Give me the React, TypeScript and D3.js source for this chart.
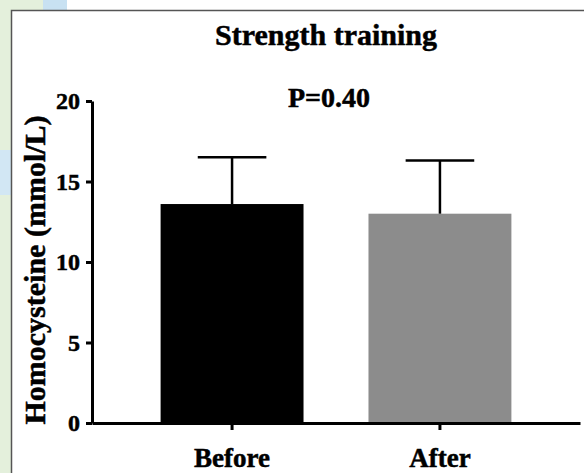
import React, { useEffect, useRef } from "react";
import * as d3 from "d3";

// data
const groups = ["Before", "After"];
const means = [13.6, 13.0];
const sds = [2.9, 3.3];
const barColors = ["#000000", "#8c8c8c"];
const yTicks = [0, 5, 10, 15, 20];
const title = "Strength training";
const pLabel = "P=0.40";
const yLabel = "Homocysteine (mmol/L)";

const W = 584;
const H = 473;
const FONT = "'Liberation Serif', 'Times New Roman', serif";

function App() {
  const ref = useRef<SVGSVGElement>(null);

  useEffect(() => {
    const svg = d3.select(ref.current);
    svg.selectAll("*").remove();

    // page background pieces outside the frame
    svg.append("rect").attr("x", 0).attr("y", 0).attr("width", W).attr("height", H).attr("fill", "#fff");
    svg.append("rect").attr("x", 0).attr("y", 0).attr("width", 11).attr("height", H).attr("fill", "#e4f0dc");
    svg.append("rect").attr("x", 0).attr("y", 0).attr("width", 66).attr("height", 10).attr("fill", "#e4f0dc");
    svg.append("rect").attr("x", 43).attr("y", 0).attr("width", 24).attr("height", 10).attr("fill", "#c8e1f2");
    svg.append("rect").attr("x", 0).attr("y", 150).attr("width", 11).attr("height", 45).attr("fill", "#d2e7f4");

    // frame
    svg.append("path")
      .attr("d", `M11.5,${H} V10.5 H${W}`)
      .attr("fill", "none")
      .attr("stroke", "#555")
      .attr("stroke-width", 1.5);

    const y = d3.scaleLinear().domain([0, 20]).range([423, 101]);
    const x = d3.scaleBand<string>()
      .domain(groups)
      .range([92, 580])
      .paddingInner(0.3125)
      .paddingOuter(0.33)
      .align(0.5);

    // bars
    svg.append("g").selectAll("rect")
      .data(groups)
      .join("rect")
      .attr("x", (d) => x(d)!)
      .attr("width", x.bandwidth())
      .attr("y", (d, i) => y(means[i]))
      .attr("height", (d, i) => y(0) - y(means[i]))
      .attr("fill", (d, i) => barColors[i]);

    // error bars (upper only)
    const capW = x.bandwidth() * 0.48;
    const err = svg.append("g").attr("stroke", "#000").attr("stroke-width", 2.5).attr("fill", "none");
    groups.forEach((g, i) => {
      const cx = x(g)! + x.bandwidth() / 2;
      err.append("line")
        .attr("x1", cx).attr("x2", cx)
        .attr("y1", y(means[i])).attr("y2", y(means[i] + sds[i]));
      err.append("line")
        .attr("x1", cx - capW / 2).attr("x2", cx + capW / 2)
        .attr("y1", y(means[i] + sds[i])).attr("y2", y(means[i] + sds[i]));
    });

    // heavier bold text like the original
    const boldText = (sel: any, size: number) =>
      sel.attr("fill", "#000")
        .attr("stroke", "#000")
        .attr("stroke-width", 0.5)
        .style("font-family", FONT)
        .style("font-weight", "bold")
        .style("font-size", `${size}px`);

    // y axis
    const yAxis = svg.append("g")
      .attr("transform", "translate(92,0)")
      .call(d3.axisLeft(y).tickValues(yTicks).tickSize(6).tickPadding(6).tickSizeOuter(0));
    yAxis.select(".domain").attr("stroke", "#000").attr("stroke-width", 3);
    yAxis.selectAll(".tick line").attr("stroke", "#000").attr("stroke-width", 3);
    boldText(yAxis.selectAll(".tick text"), 24);

    // x axis
    const xAxis = svg.append("g")
      .attr("transform", "translate(0,423)")
      .call(d3.axisBottom(x).tickSize(7).tickPadding(18).tickSizeOuter(0));
    xAxis.select(".domain").attr("stroke", "#000").attr("stroke-width", 3);
    xAxis.selectAll(".tick line").attr("stroke", "#000").attr("stroke-width", 3);
    boldText(xAxis.selectAll(".tick text"), 27);

    // title and p value
    boldText(svg.append("text")
      .attr("x", 326).attr("y", 45)
      .attr("text-anchor", "middle"), 30)
      .text(title);
    boldText(svg.append("text")
      .attr("x", 329).attr("y", 107)
      .attr("text-anchor", "middle"), 28)
      .text(pLabel);

    // y label
    boldText(svg.append("text")
      .attr("transform", "translate(45,270) rotate(-90)")
      .attr("text-anchor", "middle"), 30)
      .text(yLabel);
  }, []);

  return (
    <div style={{ position: "fixed", left: 0, top: 0 }}>
      <svg ref={ref} width={W} height={H} style={{ display: "block" }} />
    </div>
  );
}

export default App;
